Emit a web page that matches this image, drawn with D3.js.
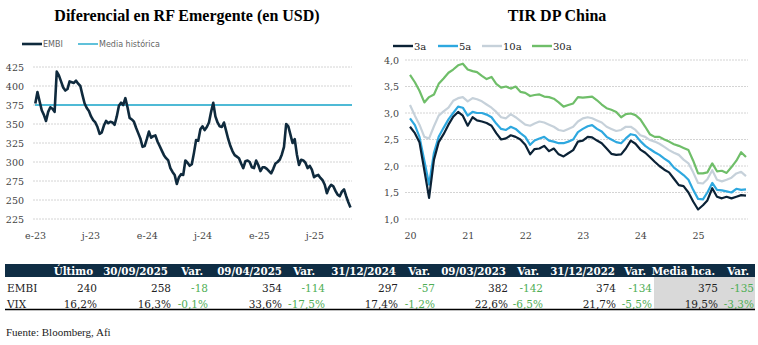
<!DOCTYPE html>
<html>
<head>
<meta charset="utf-8">
<script src="https://cdn.jsdelivr.net/npm/d3@7"></script>
<style>
body{margin:0;background:#fff;}
</style>
</head>
<body>
<div id="chart"></div>
<script>
// EMBI semanal desde 02/01/2023
const embiInicio = "2023-01-02";
const embi = [
  377,392,380,368,362,354,366,372,370,366,
  419,414,406,398,394,396,406,405,404,407,
  403,400,388,377,371,367,360,355,352,346,
  337,339,348,354,351,353,352,349,360,374,
  378,375,384,372,358,356,353,345,338,331,
  320,321,330,340,332,334,335,327,321,315,
  309,305,302,292,287,283,271,280,284,283,
  302,299,295,297,312,329,328,343,347,342,
  346,352,366,378,360,352,347,346,352,341,
  330,321,314,309,307,305,298,292,301,302,
  300,293,292,302,296,288,293,293,291,288,
  285,291,298,300,303,310,320,350,347,336,
  325,330,310,296,303,302,299,292,295,290,
  280,282,283,279,276,270,259,266,270,268,
  262,257,255,261,264,255,247,240
];
const mediaHistorica = 375;
const embiTicks = ["e-23","j-23","e-24","j-24","e-25","j-25"];
const embiYTicks = [225,250,275,300,325,350,375,400,425];

// TIR China mensual desde 01/2020
const chinaInicio = "2020-01-01";
const tir3a = [
  2.74,2.62,2.45,1.92,1.40,2.12,2.45,2.60,2.78,2.93,3.02,2.95,
  2.76,2.92,2.86,2.84,2.81,2.76,2.62,2.50,2.52,2.58,2.55,2.50,
  2.40,2.22,2.32,2.33,2.38,2.28,2.33,2.22,2.18,2.24,2.30,2.46,
  2.48,2.55,2.54,2.48,2.43,2.33,2.23,2.21,2.22,2.33,2.48,2.42,
  2.31,2.25,2.17,2.08,2.00,1.93,1.88,1.76,1.64,1.62,1.50,1.33,
  1.18,1.26,1.35,1.58,1.42,1.39,1.42,1.39,1.42,1.45,1.44
];
const tir5a = [
  2.90,2.77,2.55,2.10,1.65,2.25,2.55,2.72,2.88,3.00,3.12,3.10,
  2.95,3.02,3.00,3.00,2.97,2.92,2.80,2.70,2.68,2.74,2.70,2.62,
  2.55,2.40,2.48,2.52,2.55,2.48,2.46,2.43,2.43,2.46,2.50,2.64,
  2.70,2.75,2.77,2.70,2.65,2.55,2.50,2.45,2.43,2.52,2.60,2.58,
  2.47,2.38,2.32,2.26,2.21,2.14,2.08,1.97,1.90,1.83,1.74,1.55,
  1.38,1.37,1.50,1.68,1.55,1.54,1.52,1.50,1.57,1.55,1.56
];
const tir10a = [
  3.15,2.95,2.78,2.55,2.52,2.75,2.95,3.03,3.10,3.23,3.28,3.30,
  3.22,3.28,3.26,3.22,3.16,3.10,3.02,2.92,2.90,2.98,2.92,2.85,
  2.78,2.76,2.80,2.84,2.82,2.78,2.74,2.68,2.66,2.70,2.74,2.84,
  2.90,2.92,2.90,2.86,2.82,2.74,2.70,2.66,2.68,2.74,2.74,2.68,
  2.58,2.55,2.49,2.46,2.42,2.36,2.30,2.25,2.21,2.12,2.05,1.88,
  1.68,1.67,1.75,1.92,1.74,1.71,1.74,1.78,1.86,1.89,1.81
];
const tir30a = [
  3.72,3.58,3.42,3.20,3.30,3.35,3.55,3.65,3.76,3.82,3.90,3.93,
  3.82,3.79,3.77,3.70,3.64,3.68,3.55,3.48,3.50,3.46,3.50,3.40,
  3.38,3.32,3.34,3.35,3.31,3.30,3.27,3.20,3.12,3.15,3.18,3.30,
  3.29,3.30,3.31,3.24,3.16,3.09,3.06,3.02,2.92,2.98,2.99,2.96,
  2.88,2.74,2.60,2.55,2.55,2.50,2.46,2.41,2.38,2.34,2.30,2.10,
  1.86,1.86,1.88,2.05,1.90,1.91,1.87,1.98,2.10,2.26,2.17
];
const chinaSeries = ["3a","5a","10a","30a"];
const chinaTicks = ["20","21","22","23","24","25"];
const chinaYTicks = [1.0,1.5,2.0,2.5,3.0,3.5,4.0];

// tabla
const cabecera = ["Último","30/09/2025","Var.","09/04/2025","Var.","31/12/2024","Var.","09/03/2023","Var.","31/12/2022","Var.","Media hca.","Var."];
const filaEMBI = ["EMBI","240","258","-18","354","-114","297","-57","382","-142","374","-134","375","-135"];
const filaVIX = ["VIX","16,2%","16,3%","-0,1%","33,6%","-17,5%","17,4%","-1,2%","22,6%","-6,5%","21,7%","-5,5%","19,5%","-3,3%"];
const fuente = "Fuente: Bloomberg, Afi";

const W = 758, H = 345;
const serif = "'DejaVu Serif', serif";
const svg = d3.select("#chart").append("svg")
  .attr("width", W).attr("height", H)
  .style("font-family", serif);

// ---------- grafico izquierdo ----------
const parse = d3.timeParse("%Y-%m-%d");
const embiFechas = embi.map((v, i) => d3.timeDay.offset(parse(embiInicio), 7 * i));

const xL = d3.scaleTime()
  .domain([new Date(2023, 0, 1), new Date(2025, 10, 1)])
  .range([35, 352]);
const yL = d3.scaleLinear().domain([225, 425]).range([219, 67]);

svg.append("text")
  .attr("x", 187).attr("y", 21)
  .attr("text-anchor", "middle")
  .style("font-family", "'Liberation Serif', serif")
  .style("font-weight", "bold").style("font-size", "16px")
  .text("Diferencial en RF Emergente (en USD)");

const gL = svg.append("g");
gL.selectAll(".grid").data(embiYTicks).join("line")
  .attr("x1", 33).attr("x2", 352)
  .attr("y1", d => yL(d)).attr("y2", d => yL(d))
  .attr("stroke", "#d4d4d4").attr("stroke-dasharray", "2,1");

let yAxisL = d3.axisLeft(yL).tickValues(embiYTicks).tickSize(0).tickPadding(9);
gL.append("g").attr("class", "eje").attr("transform", "translate(33,0)").call(yAxisL)
  .call(g => g.select(".domain").remove());

const embiTickFechas = embiTicks.map((t, i) => d3.timeMonth.offset(new Date(2023, 0, 1), 6 * i));
let xAxisL = d3.axisBottom(xL).tickValues(embiTickFechas)
  .tickFormat((d, i) => embiTicks[i]).tickSize(0).tickPadding(13);
gL.append("g").attr("class", "eje").attr("transform", "translate(0,219)").call(xAxisL)
  .call(g => g.select(".domain").remove());

gL.append("line")
  .attr("x1", xL.range()[0]).attr("x2", xL.range()[1])
  .attr("y1", yL(mediaHistorica)).attr("y2", yL(mediaHistorica))
  .attr("stroke", "#4fbad6").attr("stroke-width", 1.8);

gL.append("path")
  .datum(embi)
  .attr("fill", "none").attr("stroke", "#0f2a3d").attr("stroke-width", 2.6)
  .attr("stroke-linejoin", "round")
  .attr("d", d3.line().x((d, i) => xL(embiFechas[i])).y(d => yL(d)));

// leyenda izquierda
const legL = [["EMBI", "#0f2a3d", 2.6, 22], ["Media histórica", "#4fbad6", 1.8, 78]];
legL.forEach(([t, c, w, x0]) => {
  svg.append("line").attr("x1", x0).attr("x2", x0 + 20).attr("y1", 44).attr("y2", 44)
    .attr("stroke", c).attr("stroke-width", w);
  svg.append("text").attr("x", x0 + 21).attr("y", 47)
    .style("font-family", "'DejaVu Sans', sans-serif").style("font-size", "8px")
    .attr("fill", "#666").text(t);
});

// ---------- grafico derecho ----------
const chinaFechas = tir3a.map((v, i) => d3.timeMonth.offset(parse(chinaInicio), i));
const xR = d3.scaleTime()
  .domain([new Date(2020, 0, 1), new Date(2025, 10, 1)])
  .range([410, 746]);
const yR = d3.scaleLinear().domain([1, 4]).range([219, 60]);

svg.append("text")
  .attr("x", 557).attr("y", 21)
  .attr("text-anchor", "middle")
  .style("font-family", "'Liberation Serif', serif")
  .style("font-weight", "bold").style("font-size", "16px")
  .text("TIR DP China");

const gR = svg.append("g");
gR.selectAll(".grid").data(chinaYTicks).join("line")
  .attr("x1", 405).attr("x2", 748)
  .attr("y1", d => yR(d)).attr("y2", d => yR(d))
  .attr("stroke", "#d4d4d4").attr("stroke-dasharray", "2,1");

const fmtComa = d => d3.format(".1f")(d).replace(".", ",");
gR.append("g").attr("class", "eje").attr("transform", "translate(405,0)")
  .call(d3.axisLeft(yR).tickValues(chinaYTicks).tickFormat(fmtComa).tickSize(0).tickPadding(6))
  .call(g => g.select(".domain").remove());

const chinaTickFechas = chinaTicks.map((t, i) => new Date(2020 + i, 0, 1));
gR.append("g").attr("class", "eje").attr("transform", "translate(0,219)")
  .call(d3.axisBottom(xR).tickValues(chinaTickFechas).tickFormat((d, i) => chinaTicks[i]).tickSize(0).tickPadding(13))
  .call(g => g.select(".domain").remove());

const colores = d3.scaleOrdinal().domain(chinaSeries)
  .range(["#0b2236", "#2ea8df", "#c6d1da", "#6fbe69"]);
const datosChina = { "3a": tir3a, "5a": tir5a, "10a": tir10a, "30a": tir30a };
const lineaR = d3.line().x((d, i) => xR(chinaFechas[i])).y(d => yR(d));
["30a", "10a", "5a", "3a"].forEach(s => {
  gR.append("path").datum(datosChina[s])
    .attr("fill", "none").attr("stroke", colores(s)).attr("stroke-width", 2.2)
    .attr("stroke-linejoin", "round")
    .attr("d", lineaR);
});

const legXs = [393, 438, 482, 532];
chinaSeries.forEach((s, i) => {
  svg.append("line").attr("x1", legXs[i]).attr("x2", legXs[i] + 20).attr("y1", 46).attr("y2", 46)
    .attr("stroke", colores(s)).attr("stroke-width", 2.4);
  svg.append("text").attr("x", legXs[i] + 21).attr("y", 50)
    .style("font-family", serif).style("font-size", "10px").attr("fill", "#222").text(s);
});

// estilo ejes
svg.selectAll(".eje").attr("font-family", serif).attr("font-size", 9.5);
svg.selectAll(".eje .tick text").attr("fill", "#444");

// ---------- tabla ----------
const cabDer = [93,168,203,282,315,396,430,506,539,615,646,715,749];
const valDer = [97,171,208,282,325,398,435,508,543,616,652,718,754];
const tabla = svg.append("g");
tabla.append("rect").attr("x", 5).attr("y", 264).attr("width", 750).attr("height", 13).attr("fill", "#0f2d44");
tabla.append("rect").attr("x", 654).attr("y", 277).attr("width", 101).attr("height", 32).attr("fill", "#d9d9d9");
tabla.selectAll(".cab").data(cabecera).join("text")
  .attr("x", (d, i) => cabDer[i]).attr("y", 274.5)
  .attr("text-anchor", "end")
  .style("font-weight", "bold").style("font-size", "10.3px").attr("fill", "#fff")
  .text(d => d);
[[filaEMBI, 292], [filaVIX, 308]].forEach(([fila, y]) => {
  tabla.append("text").attr("x", 7).attr("y", y).style("font-size", "10.5px").attr("fill", "#222").text(fila[0]);
  tabla.selectAll(null).data(fila.slice(1)).join("text")
    .attr("x", (d, i) => valDer[i]).attr("y", y)
    .attr("text-anchor", "end").style("font-size", "10.5px")
    .attr("fill", (d, i) => i > 0 && i % 2 === 0 ? "#4fae55" : "#222")
    .text(d => d);
});
tabla.append("line").attr("x1", 5).attr("x2", 755).attr("y1", 309.5).attr("y2", 309.5)
  .attr("stroke", "#000").attr("stroke-width", 1.3);

svg.append("text").attr("x", 6).attr("y", 336)
  .style("font-family", "'Liberation Serif', serif").style("font-size", "11px").attr("fill", "#222")
  .text(fuente);
</script>
</body>
</html>
